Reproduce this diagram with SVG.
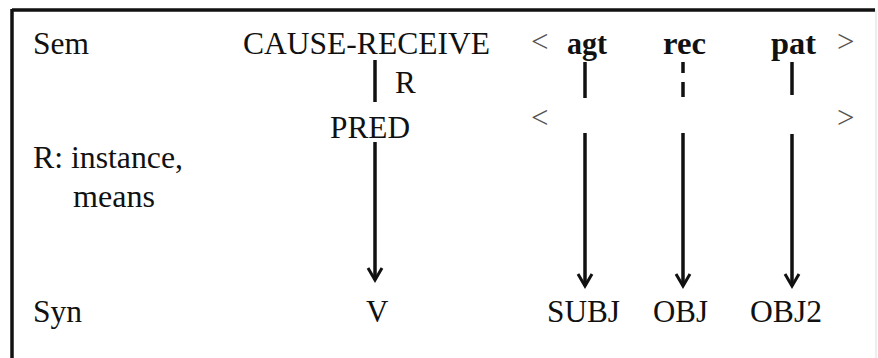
<svg xmlns="http://www.w3.org/2000/svg" width="878" height="358" viewBox="0 0 878 358">
<style>
text{font-family:"Liberation Serif","Tinos","Times New Roman","Noto Serif","DejaVu Serif",serif;font-size:31px;fill:#111}
.b{font-weight:bold}
.br{fill:#555}
.ln{stroke:#111;stroke-width:3.5;fill:none}
.ah{stroke:#111;stroke-width:3;fill:none;stroke-linejoin:miter}
</style>
<defs>
<marker id="arr" markerWidth="18" markerHeight="18" viewBox="-15 -9 18 18" refX="0" refY="0" orient="auto" markerUnits="userSpaceOnUse">
<polyline points="-12,-7 0,0 -12,7" class="ah"/>
</marker>
</defs>
<rect x="0" y="0" width="878" height="358" fill="#fff"/>
<g id="frame">
<line x1="12" y1="10" x2="875" y2="10" stroke="#111" stroke-width="3.5"/>
<line x1="12" y1="9" x2="12" y2="358" stroke="#111" stroke-width="3.5"/>
<line x1="876" y1="10" x2="876" y2="358" stroke="#ddd" stroke-width="1"/>
</g>
<g id="labels">
<text x="33" y="54" textLength="56" lengthAdjust="spacingAndGlyphs">Sem</text>
<text x="33" y="168" textLength="150" lengthAdjust="spacingAndGlyphs">R: instance,</text>
<text x="73" y="207" textLength="82" lengthAdjust="spacingAndGlyphs">means</text>
<text x="33" y="322" textLength="49" lengthAdjust="spacingAndGlyphs">Syn</text>
</g>
<g id="cause-receive"><text x="243" y="54" textLength="247" lengthAdjust="spacingAndGlyphs">CAUSE-RECEIVE</text></g>
<g id="r-label"><text x="395" y="93">R</text></g>
<g id="pred"><text x="330" y="138" textLength="80" lengthAdjust="spacingAndGlyphs">PRED</text></g>
<g id="sem-args">
<text x="531" y="52" class="br">&lt;</text>
<text x="567" y="54" class="b" textLength="40" lengthAdjust="spacingAndGlyphs">agt</text>
<text x="663" y="54" class="b" textLength="43" lengthAdjust="spacingAndGlyphs">rec</text>
<text x="771" y="54" class="b" textLength="45" lengthAdjust="spacingAndGlyphs">pat</text>
<text x="837" y="52" class="br">&gt;</text>
</g>
<g id="pred-args">
<text x="531" y="128" class="br">&lt;</text>
<text x="837" y="128" class="br">&gt;</text>
</g>
<g id="syn-v"><text x="366" y="322">V</text></g>
<g id="syn-subj"><text x="547" y="322" textLength="73" lengthAdjust="spacingAndGlyphs">SUBJ</text></g>
<g id="syn-obj"><text x="653" y="322" textLength="55" lengthAdjust="spacingAndGlyphs">OBJ</text></g>
<g id="syn-obj2"><text x="750" y="322" textLength="72" lengthAdjust="spacingAndGlyphs">OBJ2</text></g>
<g id="connectors">
<line class="ln" x1="375" y1="60" x2="375" y2="102"/>
<line class="ln" x1="585" y1="62" x2="585" y2="98"/>
<line class="ln" x1="683" y1="62" x2="683" y2="73"/>
<line class="ln" x1="683" y1="82" x2="683" y2="97"/>
<line class="ln" x1="792" y1="62" x2="792" y2="95"/>
<line class="ln" x1="375" y1="142" x2="375" y2="280" marker-end="url(#arr)"/>
<line class="ln" x1="585" y1="133" x2="585" y2="286" marker-end="url(#arr)"/>
<line class="ln" x1="683" y1="133" x2="683" y2="286" marker-end="url(#arr)"/>
<line class="ln" x1="792" y1="134" x2="792" y2="286" marker-end="url(#arr)"/>
</g>
</svg>
